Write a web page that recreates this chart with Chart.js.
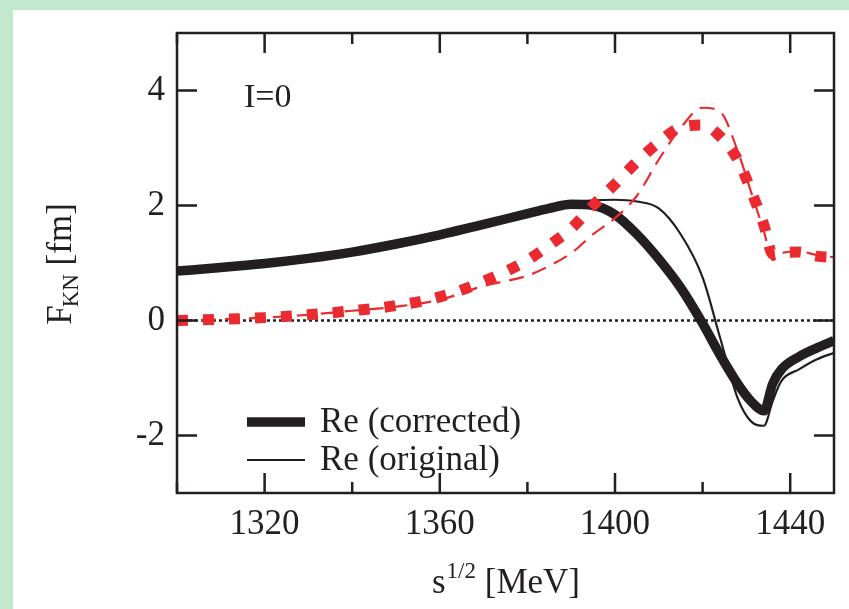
<!DOCTYPE html>
<html>
<head>
<meta charset="utf-8">
<script src="https://cdn.jsdelivr.net/npm/chart.js@4.4.0/dist/chart.umd.min.js"></script>
<style>
  html, body { margin: 0; padding: 0; background: #ffffff; overflow: hidden; }
  #wrap { position: relative; width: 849px; height: 609px; background: #ffffff; }
  .band { position: absolute; background: #c2e8d0; }
  #band-left { left: 0; top: 0; width: 13px; height: 609px; }
  #band-top { left: 0; top: 0; width: 849px; height: 10px; }
  #fkn-chart { display: block; position: absolute; left: 0; top: 0; }
</style>
</head>
<body>
<div id="wrap">
  <div class="band" id="band-left"></div>
  <div class="band" id="band-top"></div>
  <canvas id="fkn-chart" width="849" height="609"></canvas>
</div>
<script>
// energy grid (MeV) and amplitudes (fm)
var energies    = [1300, 1310, 1320, 1330, 1340, 1350, 1360, 1370, 1380, 1385, 1390, 1395, 1400, 1405, 1410, 1415, 1420, 1424, 1428, 1431, 1434, 1436, 1438, 1442, 1446, 1450];
var reCorrected = [0.86, 0.92, 0.99, 1.08, 1.19, 1.33, 1.49, 1.67, 1.86, 1.95, 2.02, 2.00, 1.84, 1.50, 1.07, 0.57, -0.05, -0.60, -1.10, -1.40, -1.57, -1.10, -0.85, -0.63, -0.48, -0.35];
var reOriginal  = [0.86, 0.92, 0.99, 1.08, 1.19, 1.33, 1.49, 1.67, 1.86, 1.96, 2.05, 2.09, 2.10, 2.07, 1.95, 1.50, 0.75, -0.30, -1.35, -1.75, -1.83, -1.40, -1.05, -0.85, -0.68, -0.56];
var imCorrected = [0.00, 0.02, 0.05, 0.10, 0.17, 0.26, 0.41, 0.68, 1.05, 1.31, 1.60, 2.00, 2.37, 2.76, 3.10, 3.36, 3.40, 3.20, 2.80, 2.27, 1.66, 1.16, 1.18, 1.19, 1.12, 1.10];
var imOriginal  = [0.00, 0.02, 0.05, 0.10, 0.17, 0.24, 0.36, 0.60, 0.78, 0.95, 1.17, 1.50, 1.78, 2.17, 2.80, 3.35, 3.70, 3.63, 2.95, 2.25, 1.55, 1.05, 1.17, 1.20, 1.14, 1.10];

var xTicks = [1300, 1320, 1340, 1360, 1380, 1400, 1420, 1440];
var xLabelTicks = [1320, 1360, 1400, 1440];
var yTicks = [-2, 0, 2, 4];
var legendLabels = ["Re (corrected)", "Re (original)"];
var panelLabel = "I=0";

var ink = '#231f20';
var red = '#ea2a2f';
var serif = "'Liberation Serif', 'Times New Roman', serif";

function pts(values) {
    return energies.map(function (e, i) { return { x: e, y: values[i] }; });
}

var framePlugin = {
    id: 'frame',
    afterDraw: function (chart) {
        var c = chart.ctx;
        var a = chart.chartArea;
        var xs = chart.scales.x, ys = chart.scales.y;
        c.save();
        c.strokeStyle = ink;
        c.lineWidth = 2.5;
        c.strokeRect(a.left, a.top, a.right - a.left, a.bottom - a.top);

        // inward ticks
        xTicks.forEach(function (v) {
            var px = xs.getPixelForValue(v);
            var len = xLabelTicks.indexOf(v) >= 0 ? 20 : 11;
            c.beginPath();
            c.moveTo(px, a.bottom); c.lineTo(px, a.bottom - len);
            c.moveTo(px, a.top); c.lineTo(px, a.top + len);
            c.stroke();
        });
        yTicks.forEach(function (v) {
            var py = ys.getPixelForValue(v);
            c.beginPath();
            c.moveTo(a.left, py); c.lineTo(a.left + 20, py);
            c.moveTo(a.right, py); c.lineTo(a.right - 20, py);
            c.stroke();
        });

        c.fillStyle = ink;
        c.textBaseline = 'alphabetic';

        // panel label
        c.font = '34px ' + serif;
        c.textAlign = 'left';
        c.fillText(panelLabel, xs.getPixelForValue(1315.3), ys.getPixelForValue(3.72));

        // x title: s^{1/2} [MeV]
        var base = 593;
        c.font = '35px ' + serif;
        var w1 = c.measureText('s').width;
        var w3 = c.measureText(' [MeV]').width;
        c.font = '23px ' + serif;
        var w2 = c.measureText('1/2').width;
        var cx = (a.left + a.right) / 2;
        var x0 = cx - (w1 + w2 + w3) / 2;
        c.font = '35px ' + serif;
        c.fillText('s', x0, base);
        c.font = '23px ' + serif;
        c.fillText('1/2', x0 + w1 + 1, base - 15);
        c.font = '35px ' + serif;
        c.fillText(' [MeV]', x0 + w1 + w2 + 1, base);

        // y title: F_KN [fm]
        c.save();
        c.translate(71, (a.top + a.bottom) / 2 + 4);
        c.rotate(-Math.PI / 2);
        c.font = '35px ' + serif;
        var f1 = c.measureText('F').width;
        var f3 = c.measureText(' [fm]').width;
        c.font = '23px ' + serif;
        var f2 = c.measureText('KN').width;
        var y0 = -(f1 + f2 + f3) / 2 + 4;
        c.font = '35px ' + serif;
        c.fillText('F', y0, 0);
        c.font = '23px ' + serif;
        c.fillText('KN', y0 + f1 - 2, 7);
        c.font = '35px ' + serif;
        c.fillText(' [fm]', y0 + f1 + f2 - 2, 0);
        c.restore();

        // legend for the real parts
        var lx = a.left + 70;
        var rows = [{ y: a.bottom - 71, w: 9.5 }, { y: a.bottom - 33, w: 2.2 }];
        c.font = '35px ' + serif;
        c.textBaseline = 'middle';
        rows.forEach(function (r, i) {
            c.lineWidth = r.w;
            c.beginPath();
            c.moveTo(lx, r.y); c.lineTo(lx + 58, r.y);
            c.stroke();
            c.fillText(legendLabels[i], lx + 73, r.y + 1);
        });
        c.restore();
    }
};

var ctx = document.getElementById('fkn-chart').getContext('2d');
var tickFont = { family: serif, size: 35 };

var myChart = new Chart(ctx, {
    type: 'line',
    data: {
        datasets: [
            {
                label: 'Im (corrected)',
                data: pts(imCorrected),
                borderColor: red,
                borderWidth: 11,
                borderDash: [11, 15],
                cubicInterpolationMode: 'monotone'
            }, {
                label: 'Im (original)',
                data: pts(imOriginal),
                borderColor: red,
                borderWidth: 2.2,
                borderDash: [15, 9],
                cubicInterpolationMode: 'monotone'
            }, {
                label: legendLabels[0],
                data: pts(reCorrected),
                borderColor: ink,
                borderWidth: 9.5,
                cubicInterpolationMode: 'monotone'
            }, {
                label: legendLabels[1],
                data: pts(reOriginal),
                borderColor: ink,
                borderWidth: 2.2,
                cubicInterpolationMode: 'monotone'
            }, {
                label: 'zero',
                data: [{ x: 1300, y: 0 }, { x: 1450, y: 0 }],
                borderColor: ink,
                borderWidth: 2.5,
                borderDash: [3, 3]
            }
        ]
    },
    options: {
        animation: false,
        responsive: false,
        devicePixelRatio: 1,
        layout: { padding: { top: 33, right: 15, left: 0, bottom: 0 } },
        elements: { point: { radius: 0 } },
        plugins: {
            legend: { display: false },
            tooltip: { enabled: false }
        },
        scales: {
            x: {
                type: 'linear',
                min: 1300,
                max: 1450,
                afterBuildTicks: function (s) { s.ticks = xTicks.map(function (v) { return { value: v }; }); },
                afterFit: function (s) { s.height = 116; },
                grid: { display: false, drawTicks: false },
                border: { display: false },
                ticks: {
                    color: ink,
                    font: tickFont,
                    padding: 11,
                    maxRotation: 0,
                    autoSkip: false,
                    callback: function (v) { return xLabelTicks.indexOf(v) >= 0 ? String(v) : ''; }
                }
            },
            y: {
                min: -3,
                max: 5,
                afterBuildTicks: function (s) { s.ticks = yTicks.map(function (v) { return { value: v }; }); },
                afterFit: function (s) { s.width = 177; },
                grid: { display: false, drawTicks: false },
                border: { display: false },
                ticks: {
                    color: ink,
                    font: tickFont,
                    padding: 12,
                    callback: function (v) { return String(v); }
                }
            }
        }
    },
    plugins: [framePlugin]
});
</script>
</body>
</html>
